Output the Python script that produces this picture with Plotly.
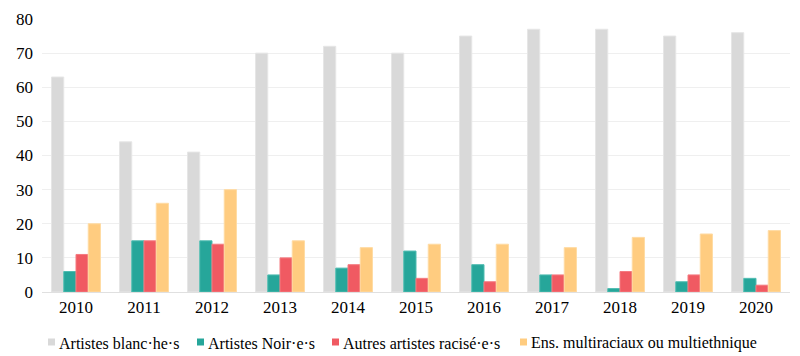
import plotly.graph_objects as go

years = ["2010", "2011", "2012", "2013", "2014", "2015", "2016", "2017", "2018", "2019", "2020"]
blanc = [63, 44, 41, 70, 72, 70, 75, 77, 77, 75, 76]
noir = [6, 15, 15, 5, 7, 12, 8, 5, 1, 3, 4]
racise = [11, 15, 14, 10, 8, 4, 3, 5, 6, 5, 2]
multi = [20, 26, 30, 15, 13, 14, 14, 13, 16, 17, 18]

names = ["Artistes blanc·he·s", "Artistes Noir·e·s", "Autres artistes racisé·e·s", "Ens. multiraciaux ou multiethnique"]
colors = ["#d9d9d9", "#26a69a", "#f05a62", "#ffcc80"]
edges = ["#e6e6e6", "#4fbcb1", "#f47a80", "#ffdba3"]
series = [blanc, noir, racise, multi]

FAM = "Liberation Serif"

# page body adds an 8px offset, so the figure is 792x348 to fill the 800x356 window
W, H = 792, 348
ML, MR, MT, MB = 34, 10, 11, 64
PW, PH = W - ML - MR, H - MT - MB
OFF = 8


def px_x(p):
    return (p - OFF - ML) / PW


def px_y(p):
    return 1 - (p - OFF - MT) / PH


fig = go.Figure()
for name, vals, c, e in zip(names, series, colors, edges):
    fig.add_trace(go.Bar(x=years, y=vals, name=name, showlegend=False,
                         marker=dict(color=c, line=dict(color=e, width=1))))

# compact legend (swatch + label), laid out like the reference's
legend_left = [48, 197, 332, 520]
sw = 7
ymid = 342
for name, c, left in zip(names, colors, legend_left):
    fig.add_shape(type="rect", xref="paper", yref="paper",
                  x0=px_x(left), x1=px_x(left + sw),
                  y0=px_y(ymid + sw / 2), y1=px_y(ymid - sw / 2),
                  fillcolor=c, line=dict(width=0))
    fig.add_annotation(text=name, xref="paper", yref="paper",
                       x=px_x(left + sw + 2), y=px_y(ymid + 1),
                       xanchor="left", yanchor="middle", showarrow=False,
                       font=dict(family=FAM, size=16, color="#000000"))

fig.update_layout(
    width=W, height=H,
    margin=dict(l=ML, r=MR, t=MT, b=MB, autoexpand=False),
    barmode="group", bargap=0.28, bargroupgap=0,
    plot_bgcolor="white", paper_bgcolor="white",
    font=dict(family=FAM, size=17, color="#000000"),
    showlegend=False,
)
fig.update_yaxes(range=[0, 80], dtick=10, showgrid=True, gridcolor="#efefef", gridwidth=1,
                 zeroline=False, showline=False, ticks="", ticklabelstandoff=8,
                 tickfont=dict(family=FAM, size=17, color="#000000"))
fig.update_xaxes(showline=True, linecolor="#e0e0e0", linewidth=1, ticks="", showgrid=False,
                 tickfont=dict(family=FAM, size=17, color="#000000"))

fig.write_html("out.html")
